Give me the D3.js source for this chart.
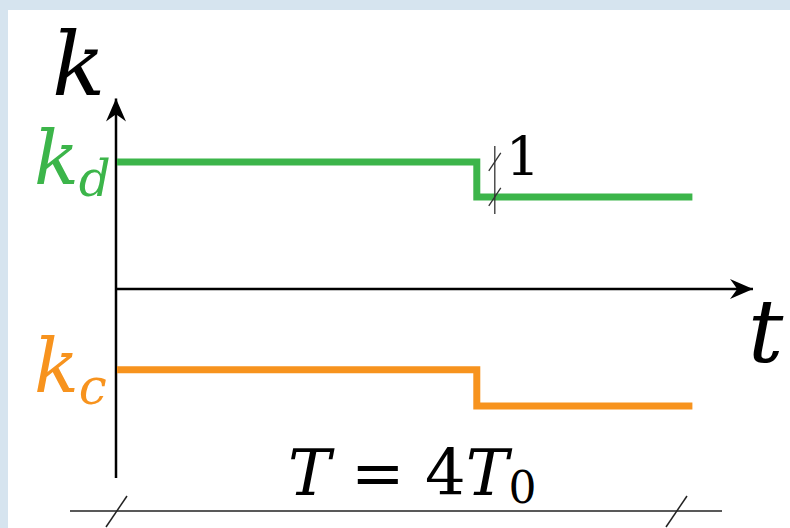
<!DOCTYPE html>
<html>
<head>
<meta charset="utf-8">
<script src="https://cdn.jsdelivr.net/npm/d3@7"></script>
<style>
  html, body { margin: 0; padding: 0; background: #d6e4ef; }
  svg { display: block; }
</style>
</head>
<body>
<div class="chart-container"></div>
<script>
// time in units of T0, k in units of the "1" step
var stepTimes = [0, 2.57, 4.11];
var kdValues = [3.63, 2.63];
var kcValues = [-2.31, -3.34];
var seriesNames = ['d', 'c'];
var periodLabel = ['T', ' = ', '4', 'T', '0'];

var green = '#3cb54a',
  orange = '#f7931e',
  serif = 'DejaVu Serif, Liberation Serif, serif';

var x = d3.scaleLinear().domain([0, 4]).range([117, 677]);
var y = d3.scaleLinear().domain([0, 1]).range([289, 254]);

var svg = d3
  .select('.chart-container')
  .append('svg')
  .attr('width', 790)
  .attr('height', 528)
  .attr('font-family', serif)
  .attr('font-style', 'italic');

// white panel
svg
  .append('rect')
  .attr('x', 8)
  .attr('y', 10)
  .attr('width', 782)
  .attr('height', 518)
  .attr('fill', '#fff');

var defs = svg.append('defs');
defs
  .append('marker')
  .attr('id', 'arrow')
  .attr('viewBox', '-24 -11 26 22')
  .attr('refX', 0)
  .attr('refY', 0)
  .attr('markerWidth', 26)
  .attr('markerHeight', 22)
  .attr('markerUnits', 'userSpaceOnUse')
  .attr('orient', 'auto')
  .append('path')
  .attr('d', 'M0,0 L-23,-10 Q-17,-2 -16,0 Q-17,2 -23,10 Z')
  .attr('fill', '#000');

// axes
svg
  .append('line')
  .attr('x1', x(0) - 1)
  .attr('y1', y(-5.4))
  .attr('x2', x(0) - 1)
  .attr('y2', y(5.5) + 2)
  .attr('stroke', '#000')
  .attr('stroke-width', 2.5)
  .attr('marker-end', 'url(#arrow)');

svg
  .append('line')
  .attr('x1', x(0) - 2)
  .attr('y1', y(0))
  .attr('x2', x(4.55) - 1)
  .attr('y2', y(0))
  .attr('stroke', '#000')
  .attr('stroke-width', 2.5)
  .attr('marker-end', 'url(#arrow)');

// step lines
var step = d3
  .line()
  .x(function (d) { return x(d[0]); })
  .y(function (d) { return y(d[1]); })
  .curve(d3.curveStepAfter);

function stepData(vals) {
  return [
    [stepTimes[0], vals[0]],
    [stepTimes[1], vals[1]],
    [stepTimes[2], vals[1]]
  ];
}

svg
  .append('path')
  .attr('d', step(stepData(kdValues)))
  .attr('fill', 'none')
  .attr('stroke', green)
  .attr('stroke-width', 7);

svg
  .append('path')
  .attr('d', step(stepData(kcValues)))
  .attr('fill', 'none')
  .attr('stroke', orange)
  .attr('stroke-width', 7);

// "1" dimension mark
var dimX = x(stepTimes[1]) + 18;
svg
  .append('line')
  .attr('x1', dimX)
  .attr('x2', dimX)
  .attr('y1', y(kdValues[0]) - 16)
  .attr('y2', y(kdValues[1]) + 17)
  .attr('stroke', '#333')
  .attr('stroke-width', 1.3);

[kdValues[0], kdValues[1]].forEach(function (v) {
  svg
    .append('line')
    .attr('x1', dimX - 6)
    .attr('y1', y(v) + 9)
    .attr('x2', dimX + 6)
    .attr('y2', y(v) - 9)
    .attr('stroke', '#333')
    .attr('stroke-width', 1.3);
});

svg
  .append('text')
  .attr('x', dimX + 11)
  .attr('y', 176)
  .attr('font-size', 54)
  .attr('font-style', 'normal')
  .text('1');

// axis labels
svg
  .append('text')
  .attr('x', 52)
  .attr('y', 95)
  .attr('font-size', 88)
  .text('k');

svg
  .append('text')
  .attr('x', 748)
  .attr('y', 362)
  .attr('font-size', 88)
  .text('t');

// series labels
var seriesLabels = [
  { name: seriesNames[0], v: kdValues[0], color: green },
  { name: seriesNames[1], v: kcValues[0], color: orange }
];

seriesLabels.forEach(function (s) {
  var t = svg
    .append('text')
    .attr('x', 34)
    .attr('y', y(s.v) + 22)
    .attr('fill', s.color)
    .attr('font-size', 74);
  t.append('tspan').text('k');
  t.append('tspan')
    .attr('dy', 12)
    .attr('font-size', 50)
    .text(s.name);
});

// period bracket
var baseY = 511;
svg
  .append('line')
  .attr('x1', 70)
  .attr('x2', 722)
  .attr('y1', baseY)
  .attr('y2', baseY)
  .attr('stroke', '#222')
  .attr('stroke-width', 1.5);

[0, 4].forEach(function (t) {
  svg
    .append('line')
    .attr('x1', x(t) - 11)
    .attr('y1', baseY + 16)
    .attr('x2', x(t) + 10)
    .attr('y2', baseY - 15)
    .attr('stroke', '#222')
    .attr('stroke-width', 1.5);
});

var pl = svg
  .append('text')
  .attr('x', 288)
  .attr('y', 495)
  .attr('font-size', 64)
  .attr('xml:space', 'preserve');
pl.append('tspan').text(periodLabel[0]);
pl.append('tspan').attr('font-style', 'normal').text(periodLabel[1]);
pl.append('tspan').attr('font-style', 'normal').text(periodLabel[2]);
pl.append('tspan').text(periodLabel[3]);
pl.append('tspan')
  .attr('dy', 8)
  .attr('font-size', 44)
  .attr('font-style', 'normal')
  .text(periodLabel[4]);
</script>
</body>
</html>
